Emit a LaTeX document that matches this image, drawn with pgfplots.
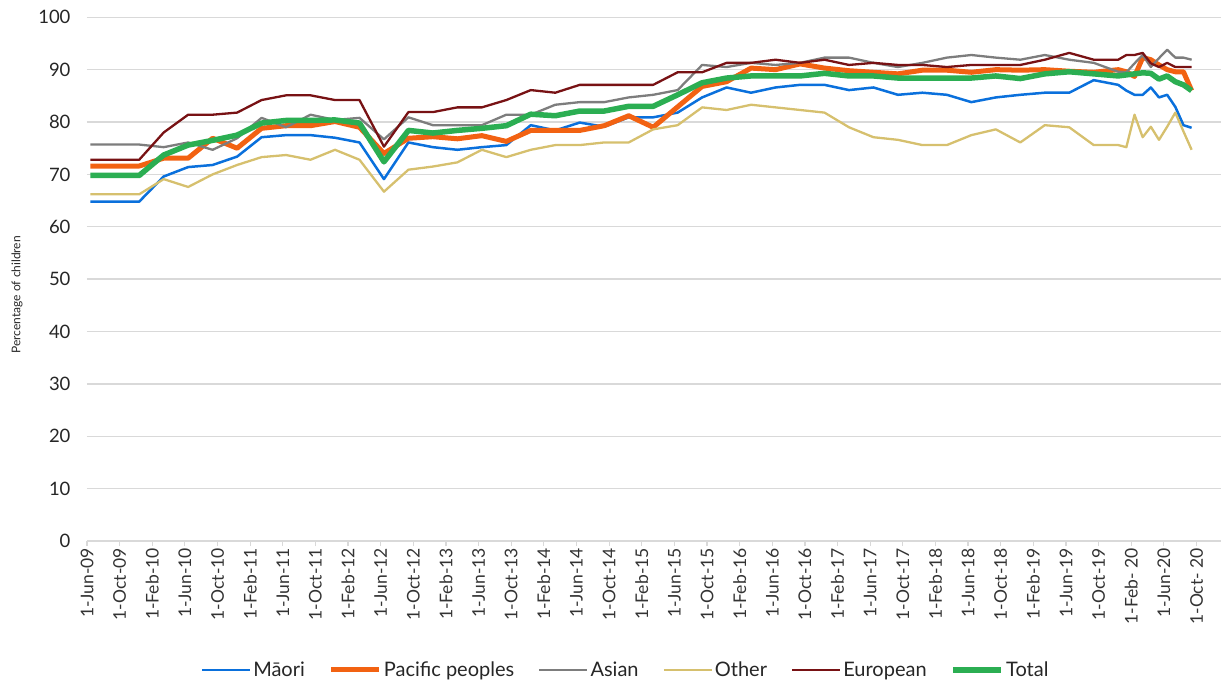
\documentclass[border=0pt]{standalone}
\usepackage{fontspec}
\setmainfont{Lato}
\usepackage{pgfplots}
\usepackage{pgfplotstable}
\pgfplotsset{compat=1.18}
\definecolor{cmaori}{RGB}{10,112,220}
\definecolor{cpac}{RGB}{242,98,18}
\definecolor{casian}{RGB}{125,125,125}
\definecolor{cother}{RGB}{214,192,110}
\definecolor{ceuro}{RGB}{120,18,20}
\definecolor{ctotal}{RGB}{43,174,82}
\definecolor{cgrid}{RGB}{217,217,217}
\pgfplotstableread{
t maori pacific asian other european total
0 64.8 71.6 75.7 66.2 72.8 69.8
3 64.8 71.6 75.7 66.2 72.8 69.8
6 64.8 71.6 75.7 66.2 72.8 69.8
9 69.6 73.1 75.2 69.1 78.0 73.7
12 71.4 73.1 76.1 67.6 81.4 75.6
15 71.8 76.9 74.7 70.0 81.4 76.5
18 73.4 75.0 76.9 71.8 81.8 77.5
21 77.1 78.8 80.8 73.3 84.2 79.8
24 77.5 79.3 79.0 73.7 85.1 80.3
27 77.5 79.3 81.4 72.8 85.1 80.3
30 77.0 80.1 80.4 74.7 84.2 80.4
33 76.1 79.0 80.8 72.8 84.2 79.8
36 69.1 74.0 76.7 66.7 75.3 72.4
39 76.1 76.9 80.9 70.9 81.9 78.4
42 75.2 77.2 79.4 71.5 81.9 77.9
45 74.7 76.8 79.4 72.3 82.8 78.4
48 75.2 77.4 79.4 74.7 82.8 78.8
51 75.6 76.3 81.4 73.3 84.2 79.3
54 79.4 78.4 81.4 74.7 86.1 81.5
57 78.4 78.4 83.3 75.6 85.6 81.2
60 79.9 78.4 83.8 75.6 87.1 82.1
63 79.1 79.3 83.8 76.1 87.1 82.1
66 80.9 81.2 84.7 76.1 87.1 83.0
69 80.9 79.0 85.2 78.6 87.1 83.0
72 81.8 82.9 86.1 79.4 89.5 85.2
75 84.7 86.8 90.9 82.8 89.5 87.5
78 86.6 87.7 90.5 82.3 91.3 88.4
81 85.6 90.3 91.3 83.3 91.3 88.8
84 86.6 90.0 90.9 82.8 91.9 88.8
87 87.1 91.1 91.3 82.3 91.3 88.8
90 87.1 90.3 92.3 81.8 91.9 89.3
93 86.1 89.8 92.3 79.0 90.9 88.8
96 86.6 89.5 91.3 77.1 91.3 88.8
99 85.2 89.2 90.5 76.6 90.9 88.4
102 85.6 89.9 91.3 75.6 90.9 88.4
105 85.2 89.9 92.3 75.6 90.5 88.4
108 83.8 89.5 92.8 77.5 90.9 88.4
111 84.7 90.0 92.3 78.6 90.9 88.8
114 85.2 89.9 91.9 76.1 90.9 88.3
117 85.6 90.0 92.8 79.4 91.9 89.2
120 85.6 89.7 91.9 79.0 93.2 89.6
123 88.0 89.5 91.3 75.6 91.9 89.2
126 87.1 90.0 89.6 75.6 91.9 88.8
127 86.0 89.6 89.5 75.2 92.8 89.0
128 85.2 88.7 91.2 81.4 92.8 89.2
129 85.2 92.3 92.8 77.1 93.2 89.4
130 86.6 91.9 90.5 79.1 91.2 89.3
131 84.7 90.9 92.2 76.6 90.5 88.2
132 85.2 90.0 93.8 79.1 91.3 88.8
133 82.9 89.6 92.3 81.8 90.5 87.7
134 79.4 89.6 92.3 78.2 90.5 87.1
135 78.9 86.0 91.9 74.7 90.5 86.0
}\datatable
\begin{document}
\begin{tikzpicture}
\begin{axis}[
  at={(0,0)}, anchor=south west,
  scale only axis, width=1134bp, height=523.7bp,
  xmin=0, xmax=139, ymin=0, ymax=100,
  axis x line=bottom, axis y line=left,
  axis line style={-},
  x axis line style={draw=cgrid, line width=1.3bp},
  y axis line style={draw=none},
  xtick={0,4,...,136},
  xticklabels={1-Jun-09,1-Oct-09,1-Feb-10,1-Jun-10,1-Oct-10,1-Feb-11,1-Jun-11,1-Oct-11,1-Feb-12,1-Jun-12,1-Oct-12,1-Feb-13,1-Jun-13,1-Oct-13,1-Feb-14,1-Jun-14,1-Oct-14,1-Feb-15,1-Jun-15,1-Oct-15,1-Feb-16,1-Jun-16,1-Oct-16,1-Feb-17,1-Jun-17,1-Oct-17,1-Feb-18,1-Jun-18,1-Oct-18,1-Feb-19,1-Jun-19,1-Oct-19,1-Feb- 20,1-Jun-20,1-Oct- 20},
  ytick={0,10,...,100},
  tick align=outside,
  major tick length=5bp,
  xtick style={draw=cgrid, line width=1.2bp},
  ytick style={draw=none},
  x tick label style={rotate=90, anchor=east, font=\fontsize{17.5bp}{19bp}\selectfont, text=black!80, inner sep=2bp},
  y tick label style={font=\fontsize{18.5bp}{20bp}\selectfont, text=black!85, anchor=east, xshift=-8bp},
  /pgf/number format/assume math mode=true,
  ymajorgrids,
  grid style={draw=cgrid, line width=1.3bp},
  ylabel={Percentage of children},
  every axis y label/.style={at={(axis description cs:-0.0617,0.47)}, rotate=90, anchor=center, font=\fontsize{12bp}{14bp}\selectfont, text=black!85},
  legend columns=-1,
  legend style={at={(axis description cs:0.475,-0.246)}, anchor=center, draw=none, fill=none, font=\fontsize{20bp}{22bp}\selectfont, text=black!85,
    /tikz/every even column/.append style={column sep=22bp}},
  legend image code/.code={\draw[#1] (0bp,0bp) -- (48bp,0bp);},
]
\addplot[cmaori, line width=2.5bp, line join=round] table[x expr=\thisrow{t}+0.4, y=maori] {\datatable};
\addlegendentry{Māori}
\addplot[cpac, line width=5bp, line join=round] table[x expr=\thisrow{t}+0.4, y=pacific] {\datatable};
\addlegendentry{Pacific peoples}
\addplot[casian, line width=2.3bp, line join=round] table[x expr=\thisrow{t}+0.4, y=asian] {\datatable};
\addlegendentry{Asian}
\addplot[cother, line width=2.3bp, line join=round] table[x expr=\thisrow{t}+0.4, y=other] {\datatable};
\addlegendentry{Other}
\addplot[ceuro, line width=2.3bp, line join=round] table[x expr=\thisrow{t}+0.4, y=european] {\datatable};
\addlegendentry{European}
\addplot[ctotal, line width=5.5bp, line join=round] table[x expr=\thisrow{t}+0.4, y=total] {\datatable};
\addlegendentry{Total}
\end{axis}
\pgfresetboundingbox
\path (-87bp,-141bp) rectangle (1134bp,541bp);
\end{tikzpicture}
\end{document}
